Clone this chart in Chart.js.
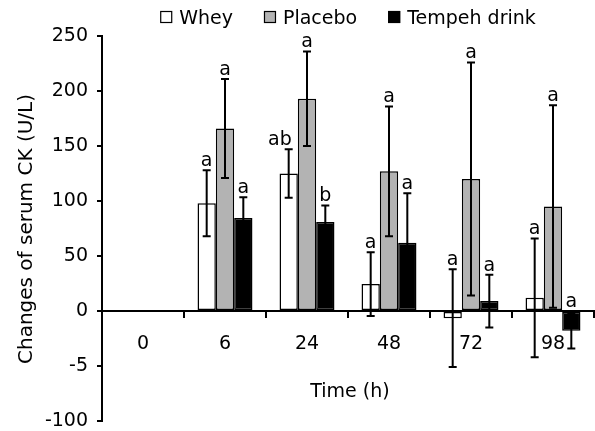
<!DOCTYPE html>
<html>
<head>
<meta charset="utf-8">
<script src="https://cdn.jsdelivr.net/npm/chart.js@4"></script>
<style>
  html, body { margin: 0; padding: 0; background: #fff; }
  #wrap { width: 595px; height: 431px; }
</style>
</head>
<body>
<div id="wrap"><canvas id="ckChart"></canvas></div>
<script>
const timePoints = ['0', '6', '24', '48', '72', '98'];

const whey = [0, 98, 125, 24.5, -6.5, 12];
const wheyErr = [0, 30, 22, 29, 44.5, 54];
const wheyLetters = ['', 'a', 'ab', 'a', 'a', 'a'];

const placebo = [0, 166, 193, 127, 120, 95];
const placeboErr = [0, 45, 43, 59, 106, 92];
const placeboLetters = ['', 'a', 'a', 'a', 'a', 'a'];

const tempeh = [0, 84.5, 81, 62, 9, -18];
const tempehErr = [0, 19, 15, 45, 24, 16];
const tempehLetters = ['', 'a', 'b', 'a', 'a', 'a'];

// the original figure prints "-5" for the -50 tick
const yTickValues = [-100, -50, 0, 50, 100, 150, 200, 250];
const yTickLabels = ['-100', '-5', '0', '50', '100', '150', '200', '250'];

const FONT_FAMILY = '"DejaVu Sans", sans-serif';
const FONT = '19px ' + FONT_FAMILY;

// error bars + significance letters on top of the bars
const errorBarPlugin = {
    id: 'errorBars',
    afterDatasetsDraw(chart) {
        const ctx = chart.ctx;
        const yScale = chart.scales.y;
        const zero = yScale.getPixelForValue(0);
        ctx.save();
        chart.data.datasets.forEach((ds, i) => {
            const meta = chart.getDatasetMeta(i);
            meta.data.forEach((bar, j) => {
                const err = ds.errors[j];
                if (!err) return;
                const v = ds.data[j];
                const top = yScale.getPixelForValue(v + err);
                const bot = yScale.getPixelForValue(v - err);
                ctx.strokeStyle = '#000';
                ctx.lineWidth = 2;
                ctx.beginPath();
                ctx.moveTo(bar.x, top);
                ctx.lineTo(bar.x, bot);
                ctx.moveTo(bar.x - 4, top);
                ctx.lineTo(bar.x + 4, top);
                ctx.moveTo(bar.x - 4, bot);
                ctx.lineTo(bar.x + 4, bot);
                ctx.stroke();

                const letter = ds.letters[j];
                if (letter) {
                    ctx.fillStyle = '#000';
                    ctx.font = FONT;
                    ctx.textBaseline = 'alphabetic';
                    // longer labels sit to the left so they clear the next bar
                    if (letter.length > 1) {
                        ctx.textAlign = 'right';
                        ctx.fillText(letter, bar.x + 3, Math.min(top, zero) - 4);
                    } else {
                        ctx.textAlign = 'center';
                        ctx.fillText(letter, bar.x, Math.min(top, zero) - 4);
                    }
                }
            });
        });
        ctx.restore();
    }
};

// legend row and axis titles
const labelsPlugin = {
    id: 'figureLabels',
    afterDraw(chart) {
        const ctx = chart.ctx;
        const area = chart.chartArea;
        ctx.save();
        ctx.font = FONT;
        ctx.textBaseline = 'alphabetic';
        ctx.textAlign = 'left';

        const items = chart.data.datasets.map(ds => ({
            ds: ds,
            w: 12 + 7 + ctx.measureText(ds.label).width
        }));
        const gap = 31;
        const total = items.reduce((s, it) => s + it.w, 0) + gap * (items.length - 1);
        let x = (area.left + area.right) / 2 - total / 2;
        items.forEach(it => {
            ctx.fillStyle = it.ds.backgroundColor;
            ctx.fillRect(x, 11, 12, 12);
            ctx.strokeStyle = '#000';
            ctx.lineWidth = 1.2;
            ctx.strokeRect(x + 0.5, 11.5, 11, 11);
            ctx.fillStyle = '#000';
            ctx.fillText(it.ds.label, x + 19, 24);
            x += it.w + gap;
        });

        ctx.textAlign = 'center';
        ctx.fillText('Time (h)', 350, 397);

        ctx.font = '20px ' + FONT_FAMILY;
        ctx.translate(32, 229);
        ctx.rotate(-Math.PI / 2);
        ctx.fillText('Changes of serum CK (U/L)', 0, 0);
        ctx.restore();
    }
};

const ctx = document.getElementById('ckChart').getContext('2d');
const ckChart = new Chart(ctx, {
    type: 'bar',
    data: {
        labels: timePoints,
        datasets: [
            {
                label: 'Whey',
                data: whey,
                errors: wheyErr,
                letters: wheyLetters,
                backgroundColor: '#ffffff',
                borderColor: '#000000',
                borderWidth: 1.5,
                borderSkipped: false
            },
            {
                label: 'Placebo',
                data: placebo,
                errors: placeboErr,
                letters: placeboLetters,
                backgroundColor: '#b3b3b3',
                borderColor: '#000000',
                borderWidth: 1.5,
                borderSkipped: false
            },
            {
                label: 'Tempeh drink',
                data: tempeh,
                errors: tempehErr,
                letters: tempehLetters,
                backgroundColor: '#000000',
                borderColor: '#000000',
                borderWidth: 1.5,
                borderSkipped: false
            }
        ]
    },
    options: {
        responsive: true,
        maintainAspectRatio: false,
        animation: false,
        layout: { padding: { top: 36, left: 0, right: 1, bottom: 10 } },
        categoryPercentage: 0.67,
        barPercentage: 1.0,
        plugins: {
            legend: { display: false },
            tooltip: { enabled: false }
        },
        scales: {
            x: {
                type: 'category',
                position: { y: 0 },
                grid: {
                    offset: true,
                    drawOnChartArea: false,
                    drawTicks: true,
                    tickLength: 6,
                    color: '#000',
                    lineWidth: 2
                },
                border: { display: true, color: '#000', width: 2 },
                ticks: {
                    color: '#000',
                    font: { family: FONT_FAMILY, size: 19, lineHeight: 1 },
                    padding: 18,
                    maxRotation: 0,
                    autoSkip: false
                }
            },
            y: {
                min: -100,
                max: 250,
                afterFit(scale) {
                    scale.width = 102;
                    // let the layout padding decide where the plot ends
                    scale.paddingTop = 0;
                    scale.paddingBottom = 0;
                },
                grid: {
                    drawOnChartArea: false,
                    drawTicks: true,
                    tickLength: 5,
                    color: '#000',
                    lineWidth: 2
                },
                border: { display: true, color: '#000', width: 2 },
                ticks: {
                    stepSize: 50,
                    color: '#000',
                    padding: 9,
                    font: { family: FONT_FAMILY, size: 19, lineHeight: 1 },
                    callback: (value) => {
                        const k = yTickValues.indexOf(value);
                        return k >= 0 ? yTickLabels[k] : '';
                    }
                }
            }
        }
    },
    plugins: [errorBarPlugin, labelsPlugin]
});
</script>
</body>
</html>
